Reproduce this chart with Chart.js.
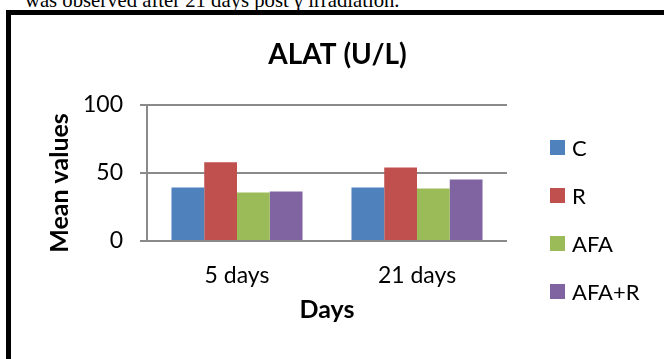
<!DOCTYPE html>
<html>
<head>
<meta charset="utf-8">
<script src="https://cdn.jsdelivr.net/npm/chart.js@4/dist/chart.umd.min.js"></script>
<style>
  html, body { margin: 0; padding: 0; background: #fff; overflow: hidden; }
  body { width: 664px; height: 359px; position: relative; }
  #caption {
    position: absolute; left: 25px; top: -9.8px; white-space: nowrap;
    font-family: "Liberation Serif", "Times New Roman", serif; font-size: 20.7px; line-height: 20.7px; color: #000;
  }
  #frame {
    position: absolute; left: 6px; top: 10px; width: 720px; height: 420px;
    border-left: 5px solid #000; border-top: 5px solid #000;
  }
  #chart { position: absolute; left: 0; top: 0; }
</style>
</head>
<body>
<div id="caption">was observed after 21 days post γ irradiation.</div>
<div id="frame"></div>
<canvas id="chart" width="664" height="359"></canvas>
<script>
// ALAT (U/L) mean values per group at each time point
const categories = ['5 days', '21 days'];
const seriesNames = ['C', 'R', 'AFA', 'AFA+R'];
const cValues = [39.2, 39.2];
const rValues = [57.7, 53.8];
const afaValues = [35.5, 38.5];
const afaRValues = [36.3, 45.0];
const yTickValues = [0, 50, 100];

const seriesColors = ['#4F81BD', '#C0504D', '#9BBB59', '#8064A2'];
const gridGray = '#8a8a8a';
const FONT = 'Lato';

const seriesValues = [cValues, rValues, afaValues, afaRValues];
const datasets = seriesNames.map((name, i) => ({
  label: name,
  data: seriesValues[i],
  backgroundColor: seriesColors[i],
  borderWidth: 0,
  categoryPercentage: 0.728,
  barPercentage: 1.0
}));

// Vertical axis title and the key on the right, drawn on the canvas
const sideText = {
  id: 'sideText',
  afterDraw(chart, args, opts) {
    const ctx = chart.ctx;
    ctx.save();
    ctx.fillStyle = '#000';

    // rotated y-axis title
    ctx.font = `bold ${opts.yTitleSize}px ${FONT}`;
    ctx.translate(opts.yTitleX, opts.yTitleY);
    ctx.rotate(-Math.PI / 2);
    ctx.textAlign = 'center';
    ctx.textBaseline = 'alphabetic';
    ctx.fillText(opts.yTitle, 0, 0);
    ctx.setTransform(1, 0, 0, 1, 0, 0);

    // key: one swatch + label per dataset
    ctx.font = `${opts.keySize}px ${FONT}`;
    ctx.textAlign = 'left';
    chart.data.datasets.forEach((ds, i) => {
      const cy = opts.keyTop + i * opts.keyStep;
      ctx.fillStyle = ds.backgroundColor;
      ctx.fillRect(opts.keyX, cy - opts.keyBox / 2, opts.keyBox, opts.keyBox);
      ctx.fillStyle = '#000';
      ctx.fillText(ds.label, opts.keyX + opts.keyBox + 7, cy + 8);
    });
    ctx.restore();
  }
};

new Chart(document.getElementById('chart'), {
  type: 'bar',
  data: { labels: categories, datasets },
  plugins: [sideText],
  options: {
    responsive: false,
    animation: false,
    devicePixelRatio: 1,
    layout: { padding: { left: 11, right: 0, top: 0, bottom: 29.5 } },
    plugins: {
      title: {
        display: true,
        text: 'ALAT (U/L)',
        color: '#000',
        font: { family: FONT, size: 28, weight: 'bold' },
        padding: { top: 38.2, bottom: 32.7 }
      },
      legend: { display: false },
      tooltip: { enabled: false },
      sideText: {
        yTitle: 'Mean values', yTitleSize: 25, yTitleX: 68, yTitleY: 183,
        keyX: 550, keyTop: 147.5, keyStep: 48, keyBox: 15, keySize: 22
      }
    },
    scales: {
      x: {
        grid: { display: false, drawTicks: false },
        border: { display: false },
        ticks: { color: '#000', font: { family: FONT, size: 23 }, padding: 20.9 },
        title: {
          display: true,
          text: 'Days',
          color: '#000',
          font: { family: FONT, size: 25, weight: 'bold' },
          padding: { top: 0, bottom: 5 }
        },
        afterFit: (scale) => { scale.height = 88.5; }
      },
      y: {
        min: 0,
        max: 100,
        afterBuildTicks: (scale) => { scale.ticks = yTickValues.map(v => ({ value: v })); },
        grid: { color: gridGray, lineWidth: 2, tickLength: 7 },
        border: { color: gridGray, width: 2 },
        ticks: { color: '#000', font: { family: FONT, size: 23 }, padding: 17 },
        afterFit: (scale) => { scale.width = 136; }
      },
      gap: {
        position: 'right',
        display: true,
        grid: { display: false, drawTicks: false },
        border: { display: false },
        ticks: { display: false },
        afterFit: (scale) => { scale.width = 157; }
      }
    }
  }
});
</script>
</body>
</html>
